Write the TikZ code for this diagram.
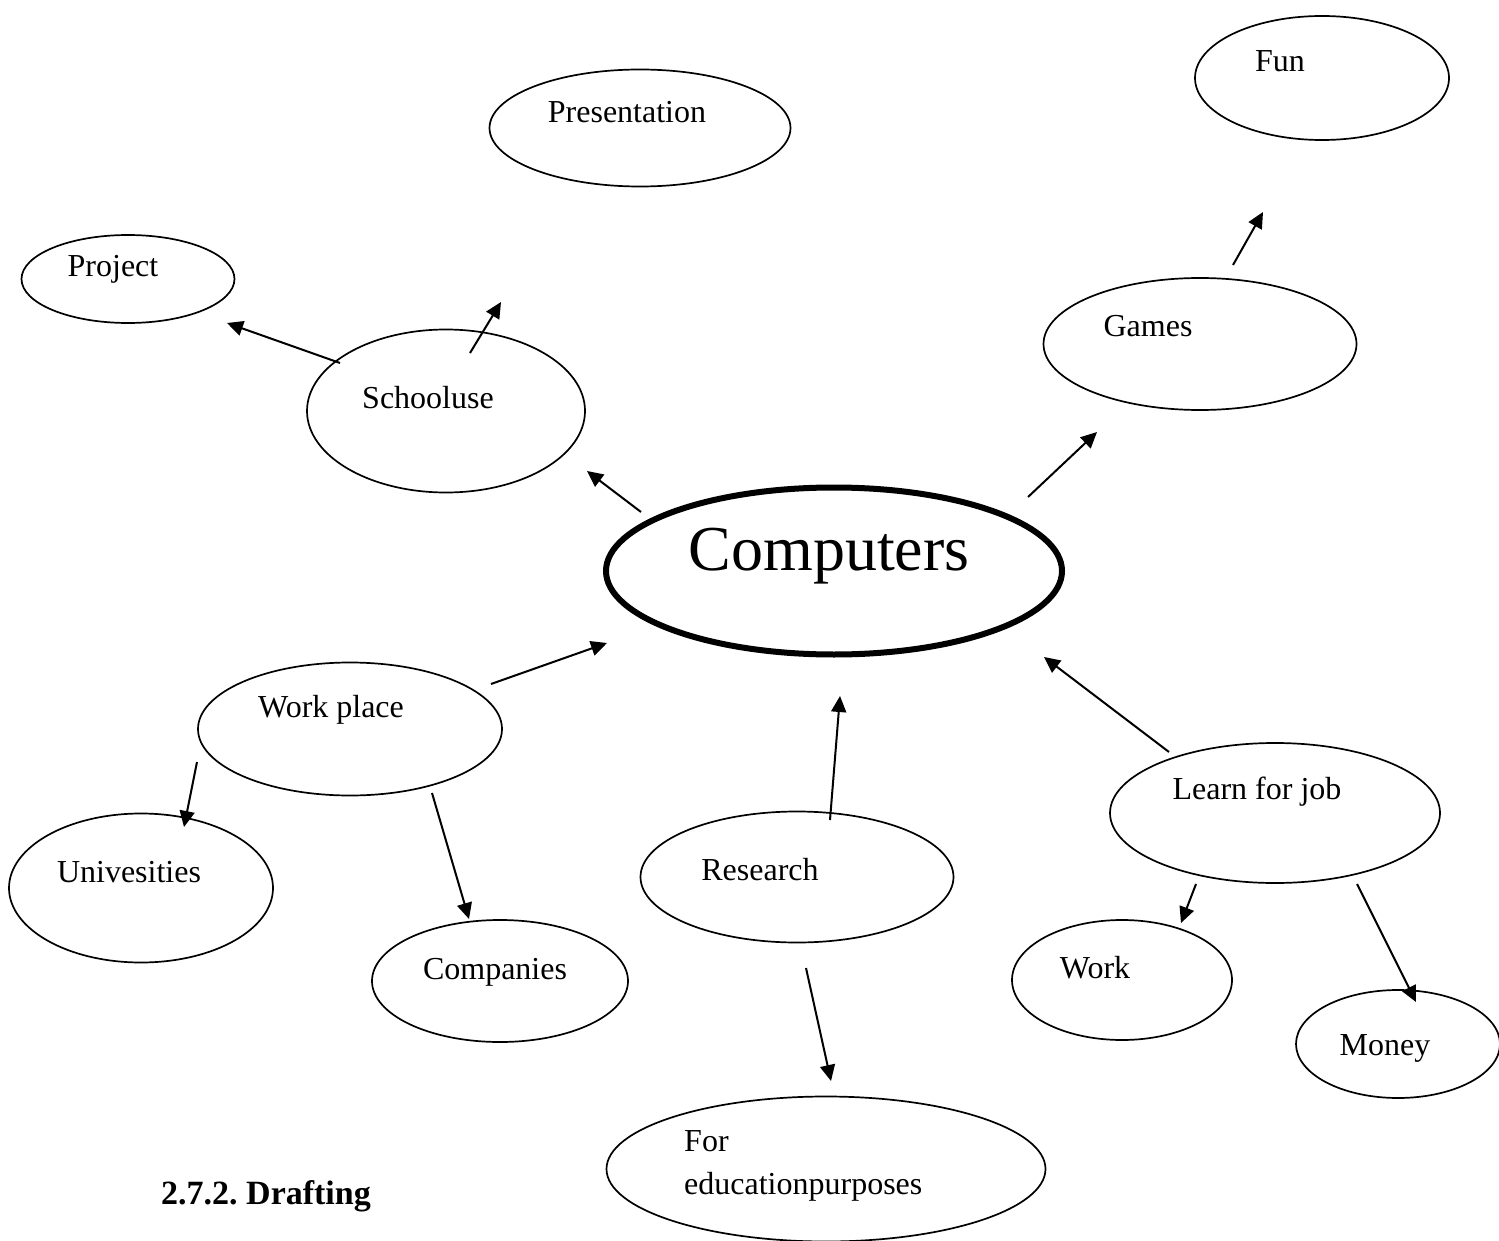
\documentclass[tikz,border=0pt]{standalone}
\usepackage{fontspec}
\setmainfont{Liberation Serif}
\usetikzlibrary{arrows.meta,shapes.geometric}
\begin{document}
\begin{tikzpicture}[x=1pt,y=-1pt,
  bub/.style={draw,line width=1.7pt,ellipse,inner sep=0pt},
  lbl/.style={inner sep=0pt,anchor=base,font=\fontsize{32}{38}\selectfont},
  arr/.style={line width=2pt,-{Triangle[length=16pt,width=15pt]}}]
\useasboundingbox[fill=white] (0,0) rectangle (1499,1241);
% ellipses
\node[bub,minimum width=254,minimum height=124] (fun) at (1322,78) {};
\node[bub,minimum width=301,minimum height=117] (pres) at (640,128) {};
\node[bub,minimum width=213,minimum height=88] (proj) at (128,279) {};
\node[bub,minimum width=278,minimum height=163] (school) at (446,411) {};
\node[bub,minimum width=313,minimum height=132] (games) at (1200,344) {};
\node[draw,ellipse,line width=6pt,inner sep=0pt,minimum width=456,minimum height=167] (comp) at (834,571) {};
\node[bub,minimum width=304,minimum height=133] (workp) at (350,729) {};
\node[bub,minimum width=330,minimum height=140] (learn) at (1275,813) {};
\node[bub,minimum width=313,minimum height=131] (res) at (797,877) {};
\node[bub,minimum width=264,minimum height=149] (univ) at (141,888) {};
\node[bub,minimum width=256,minimum height=122] (comps) at (500,981) {};
\node[bub,minimum width=220,minimum height=120] (work) at (1122,980) {};
\node[bub,minimum width=204,minimum height=108] (money) at (1398,1044) {};
\node[bub,minimum width=439,minimum height=145] (edu) at (826,1169) {};
% labels
\node[lbl] (funT) at (1280,72) {Fun};
\node[lbl] (presT) at (627,123) {Presentation};
\node[lbl] (projT) at (113,277) {Project};
\node[lbl] (schoolT) at (428,408) {Schooluse};
\node[lbl] (gamesT) at (1148,336) {Games};
\node[lbl,font=\fontsize{64}{72}\selectfont] (compT) at (829,570) {Computers};
\node[lbl] (workpT) at (331,717) {Work place};
\node[lbl] (learnT) at (1257,799) {Learn for job};
\node[lbl] (resT) at (760,880) {Research};
\node[lbl] (univT) at (129,882) {Univesities};
\node[lbl] (compsT) at (495,979) {Companies};
\node[lbl] (workT) at (1095,978) {Work};
\node[lbl] (moneyT) at (1385,1055) {Money};
\node[lbl,anchor=base west] (eduT1) at (684,1151) {For};
\node[lbl,anchor=base west] (eduT2) at (684,1194) {educationpurposes};
\node[lbl,anchor=base west,font=\bfseries\fontsize{34}{40}\selectfont] (head) at (161,1204) {2.7.2.\ Drafting};
% arrow ends
\coordinate (a1s) at (1233,265); \coordinate (a1e) at (1263,212);
\coordinate (a2s) at (470,353);  \coordinate (a2e) at (501,302);
\coordinate (a3s) at (340,363);  \coordinate (a3e) at (227,323);
\coordinate (a4s) at (641,512);  \coordinate (a4e) at (587,471);
\coordinate (a5s) at (1028,497); \coordinate (a5e) at (1097,432);
\coordinate (a6s) at (491,684);  \coordinate (a6e) at (607,643);
\coordinate (a7s) at (1169,752); \coordinate (a7e) at (1044,657);
\coordinate (a8s) at (830,820);  \coordinate (a8e) at (840,696);
\coordinate (a9s) at (197,762);  \coordinate (a9e) at (184,827);
\coordinate (a10s) at (432,793); \coordinate (a10e) at (469,919);
\coordinate (a11s) at (1196,884);\coordinate (a11e) at (1181,923);
\coordinate (a12s) at (1357,884);\coordinate (a12e) at (1416,1002);
\coordinate (a13s) at (806,968); \coordinate (a13e) at (831,1081);
\draw[arr] (a1s) -- (a1e);
\draw[arr] (a2s) -- (a2e);
\draw[arr] (a3s) -- (a3e);
\draw[arr] (a4s) -- (a4e);
\draw[arr] (a5s) -- (a5e);
\draw[arr] (a6s) -- (a6e);
\draw[arr] (a7s) -- (a7e);
\draw[arr] (a8s) -- (a8e);
\draw[arr] (a9s) -- (a9e);
\draw[arr] (a10s) -- (a10e);
\draw[arr] (a11s) -- (a11e);
\draw[arr] (a12s) -- (a12e);
\draw[arr] (a13s) -- (a13e);
\end{tikzpicture}
\end{document}
